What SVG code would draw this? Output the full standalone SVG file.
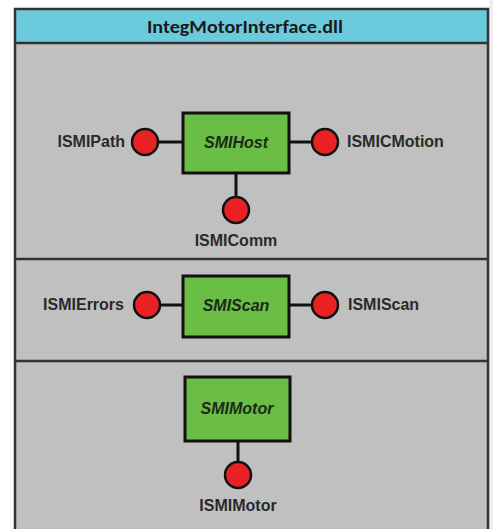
<svg xmlns="http://www.w3.org/2000/svg" width="493" height="529" viewBox="0 0 493 529">
<style>
.box{fill:#6abd45;stroke:#111;stroke-width:3}
.port{fill:#e82224;stroke:#111;stroke-width:2.5}
.wire{stroke:#111;stroke-width:3;fill:none}
.frame{stroke:#333;stroke-width:2.5;fill:none}
.lbl{font-family:"Liberation Sans",Arial,sans-serif;font-weight:bold;font-size:16px;fill:#2a2a2a}
.name{font-family:"Liberation Sans",Arial,sans-serif;font-weight:bold;font-style:italic;font-size:16px;fill:#1c2a16}
.title{font-family:"Carlito","Liberation Sans",Arial,sans-serif;font-weight:bold;font-size:19px;fill:#1a1a1a}
</style>
<rect width="493" height="529" fill="#ffffff"/>
<rect x="489" y="0" width="4" height="529" fill="#eeeeee"/>
<g id="frame">
<rect x="15" y="9" width="473" height="525" fill="#c0c0c0"/>
<rect x="15" y="9" width="473" height="34" fill="#6ccadd"/>
<path class="frame" d="M15,534 V9 H488 V534 M15,43 H488 M15,259 H488 M15,361 H488"/>
<text class="title" x="245" y="33" text-anchor="middle" textLength="196" lengthAdjust="spacingAndGlyphs">IntegMotorInterface.dll</text>
</g>
<g id="connectors">
<line class="wire" x1="158" y1="142" x2="183" y2="142"/>
<line class="wire" x1="289" y1="142" x2="312" y2="142"/>
<line class="wire" x1="236" y1="173" x2="236" y2="197"/>
<line class="wire" x1="159" y1="305" x2="183" y2="305"/>
<line class="wire" x1="289" y1="305" x2="312" y2="305"/>
<line class="wire" x1="238" y1="441" x2="238" y2="462"/>
</g>
<g id="SMIHost">
<rect class="box" x="183" y="113" width="106" height="60"/>
<text class="name" x="236" y="148" text-anchor="middle">SMIHost</text>
</g>
<g id="ISMIPath">
<circle class="port" cx="145" cy="142" r="13"/>
<text class="lbl" x="125" y="147" text-anchor="end">ISMIPath</text>
</g>
<g id="ISMICMotion">
<circle class="port" cx="325" cy="142" r="13"/>
<text class="lbl" x="347" y="147">ISMICMotion</text>
</g>
<g id="ISMIComm">
<circle class="port" cx="236" cy="210" r="13"/>
<text class="lbl" x="236" y="246" text-anchor="middle">ISMIComm</text>
</g>
<g id="SMIScan">
<rect class="box" x="183" y="276" width="106" height="61"/>
<text class="name" x="236" y="311" text-anchor="middle">SMIScan</text>
</g>
<g id="ISMIErrors">
<circle class="port" cx="147" cy="305" r="13"/>
<text class="lbl" x="124" y="310" text-anchor="end">ISMIErrors</text>
</g>
<g id="ISMIScan">
<circle class="port" cx="325" cy="305" r="13"/>
<text class="lbl" x="348" y="310">ISMIScan</text>
</g>
<g id="SMIMotor">
<rect class="box" x="185" y="377" width="105" height="64"/>
<text class="name" x="237" y="414" text-anchor="middle">SMIMotor</text>
</g>
<g id="ISMIMotor">
<circle class="port" cx="238" cy="475" r="13"/>
<text class="lbl" x="238" y="511" text-anchor="middle">ISMIMotor</text>
</g>
</svg>
